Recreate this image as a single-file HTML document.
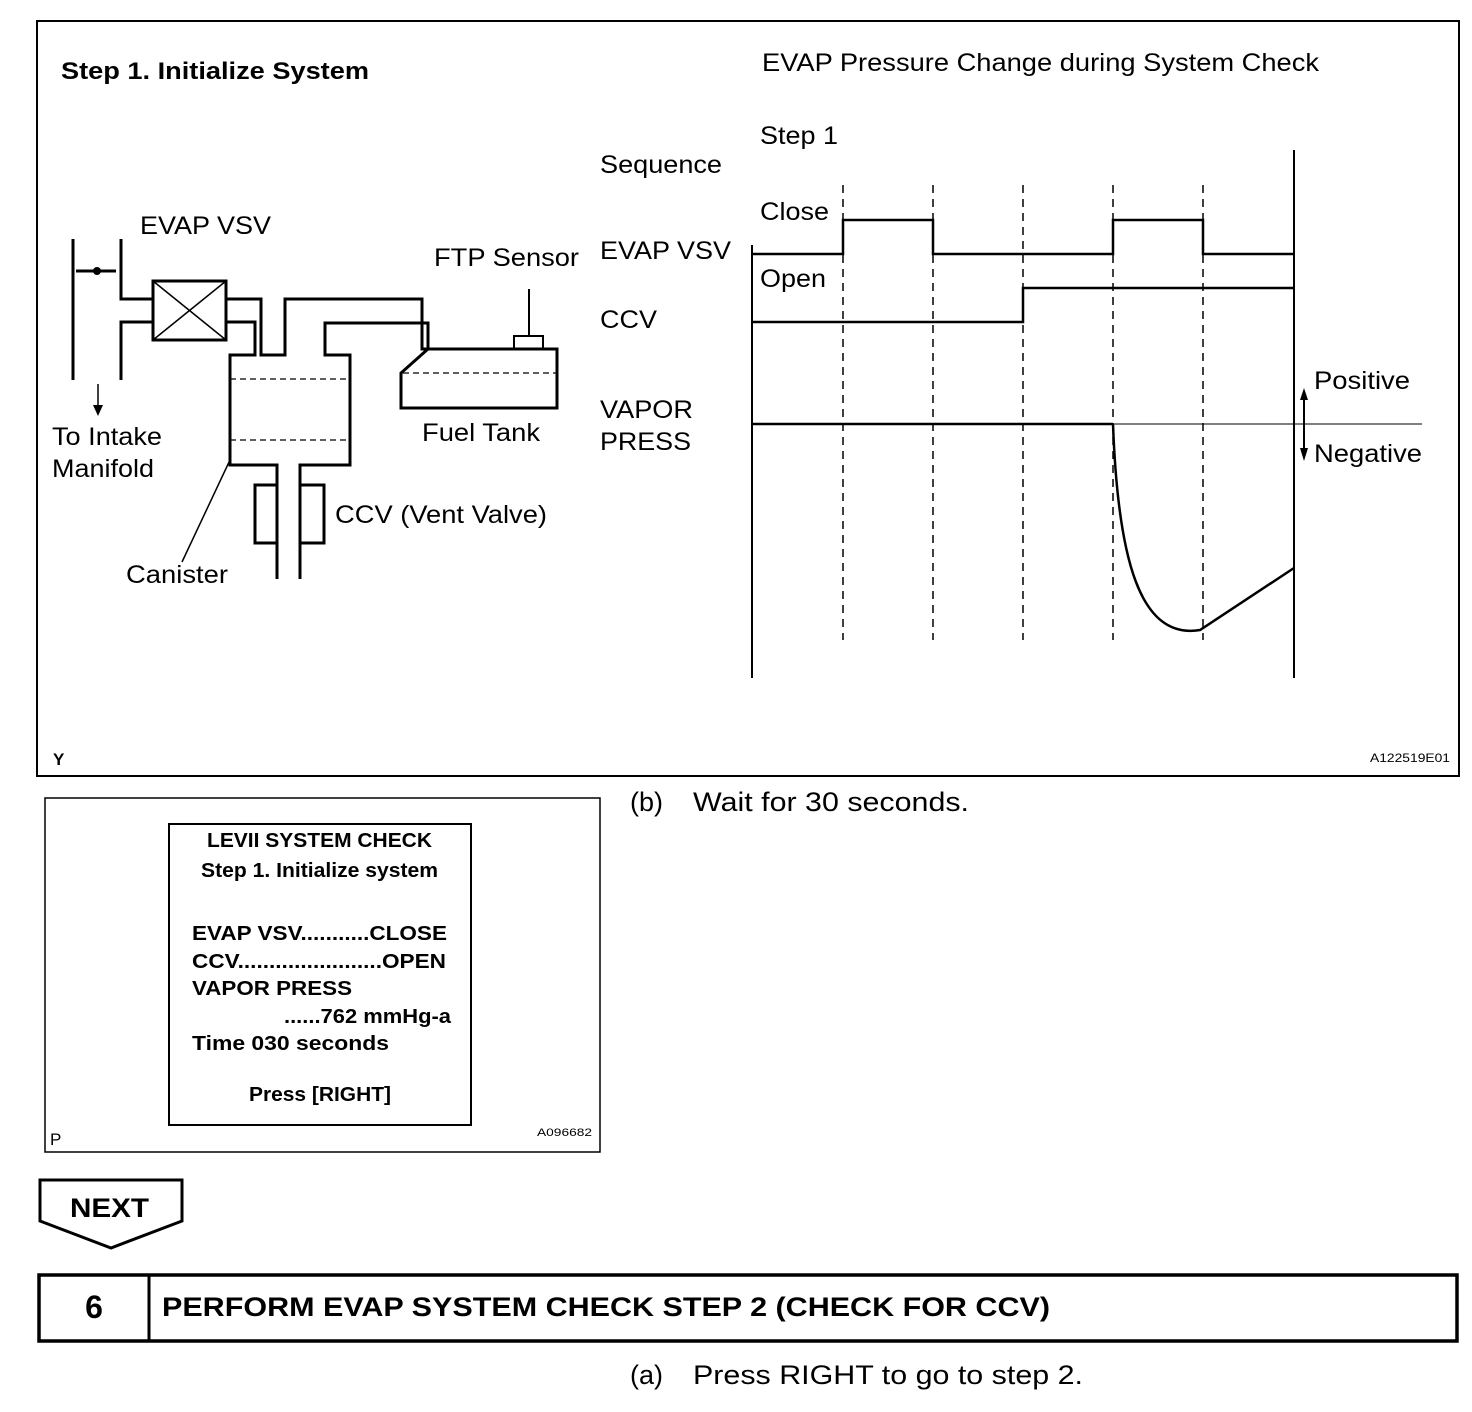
<!DOCTYPE html>
<html><head><meta charset="utf-8"><style>
body{margin:0;background:#fff}
svg{display:block}
text{font-family:"Liberation Sans",Arial,sans-serif;fill:#000}
</style></head><body>
<svg width="1472" height="1412" viewBox="0 0 1472 1412" xmlns="http://www.w3.org/2000/svg">
<rect x="37" y="21" width="1422" height="755" fill="none" stroke="#000" stroke-width="2"/>
<text x="61" y="79" font-size="24" font-weight="bold" textLength="308" lengthAdjust="spacingAndGlyphs">Step 1. Initialize System</text>
<text x="762" y="71" font-size="25" textLength="557" lengthAdjust="spacingAndGlyphs">EVAP Pressure Change during System Check</text>
<g fill="none" stroke="#000" stroke-width="3">
<line x1="73" y1="239" x2="73" y2="380"/>
<line x1="76" y1="271" x2="116" y2="271"/>
<polyline points="121,239 121,299 153,299"/>
<polyline points="121,380 121,322 153,322"/>
<rect x="153" y="281" width="73" height="59"/>
<line x1="153" y1="281" x2="226" y2="340" stroke-width="1.5"/>
<line x1="226" y1="281" x2="153" y2="340" stroke-width="1.5"/>
<polyline points="226,299 261,299 261,355 285,355 285,299 422,299 422,349 557,349 557,408 401,408 401,373 428,349 428,323 325,323 325,355 350,355 350,465 300,465 300,579"/>
<polyline points="226,322 255,322 255,355 230,355 230,465 277,465 277,579"/>
<rect x="255" y="485" width="22" height="58"/>
<rect x="300" y="485" width="24" height="58"/>
<line x1="529" y1="289" x2="529" y2="336" stroke-width="2"/>
<rect x="514" y="336" width="29" height="13" stroke-width="2"/>
<line x1="230" y1="460" x2="182" y2="562" stroke-width="1.5"/>
<line x1="98" y1="384" x2="98" y2="408" stroke-width="1.5"/>
</g>
<circle cx="97" cy="271" r="4"/>
<polygon points="93,405 103,405 98,416"/>
<g stroke="#000" stroke-width="1.2" stroke-dasharray="6,4">
<line x1="230" y1="379" x2="350" y2="379"/>
<line x1="230" y1="440" x2="350" y2="440"/>
<line x1="403" y1="373" x2="557" y2="373"/>
</g>
<g font-size="25" lengthAdjust="spacingAndGlyphs">
<text x="140" y="234" textLength="131" lengthAdjust="spacingAndGlyphs">EVAP VSV</text>
<text x="434" y="266" textLength="145" lengthAdjust="spacingAndGlyphs">FTP Sensor</text>
<text x="52" y="445" textLength="110" lengthAdjust="spacingAndGlyphs">To Intake</text>
<text x="52" y="477" textLength="102" lengthAdjust="spacingAndGlyphs">Manifold</text>
<text x="422" y="441" textLength="118" lengthAdjust="spacingAndGlyphs">Fuel Tank</text>
<text x="335" y="523" textLength="212" lengthAdjust="spacingAndGlyphs">CCV (Vent Valve)</text>
<text x="126" y="583" textLength="102" lengthAdjust="spacingAndGlyphs">Canister</text>
<text x="760" y="144" textLength="78" lengthAdjust="spacingAndGlyphs">Step 1</text>
<text x="600" y="173" textLength="122" lengthAdjust="spacingAndGlyphs">Sequence</text>
<text x="760" y="220" textLength="69" lengthAdjust="spacingAndGlyphs">Close</text>
<text x="600" y="259" textLength="131" lengthAdjust="spacingAndGlyphs">EVAP VSV</text>
<text x="760" y="287" textLength="66" lengthAdjust="spacingAndGlyphs">Open</text>
<text x="600" y="328" textLength="57" lengthAdjust="spacingAndGlyphs">CCV</text>
<text x="600" y="418" textLength="93" lengthAdjust="spacingAndGlyphs">VAPOR</text>
<text x="600" y="450" textLength="91" lengthAdjust="spacingAndGlyphs">PRESS</text>
<text x="1314" y="389" textLength="96" lengthAdjust="spacingAndGlyphs">Positive</text>
<text x="1314" y="462" textLength="108" lengthAdjust="spacingAndGlyphs">Negative</text>
</g>
<text x="53" y="765" font-size="17" font-weight="bold">Y</text>
<text x="1370" y="762" font-size="12" textLength="80" lengthAdjust="spacingAndGlyphs">A122519E01</text>
<g fill="none" stroke="#000">
<line x1="752" y1="245" x2="752" y2="678" stroke-width="2"/>
<line x1="1294" y1="150" x2="1294" y2="678" stroke-width="2"/>
<g stroke-width="1.5" stroke-dasharray="8,6">
<line x1="843" y1="185" x2="843" y2="640"/>
<line x1="933" y1="185" x2="933" y2="640"/>
<line x1="1023" y1="185" x2="1023" y2="640"/>
<line x1="1113" y1="185" x2="1113" y2="640"/>
<line x1="1203" y1="185" x2="1203" y2="640"/>
</g>
<polyline stroke-width="2.5" points="752,254 843,254 843,220 933,220 933,254 1113,254 1113,220 1203,220 1203,254 1294,254"/>
<polyline stroke-width="2.5" points="752,322 1023,322 1023,288 1294,288"/>
<line x1="752" y1="424" x2="1422" y2="424" stroke-width="1"/>
<line x1="752" y1="424" x2="1113" y2="424" stroke-width="2.5"/>
<path d="M1113,424 C1118,560 1140,640 1200,630 L1294,568" stroke-width="2.5"/>
<line x1="1304" y1="396" x2="1304" y2="452" stroke-width="2"/>
</g>
<polygon points="1300,400 1308,400 1304,388"/>
<polygon points="1300,448 1308,448 1304,461"/>

<rect x="45" y="798" width="555" height="354" fill="none" stroke="#000" stroke-width="1.5"/>
<rect x="169" y="824" width="302" height="301" fill="none" stroke="#000" stroke-width="2"/>
<g font-size="20" font-weight="bold">
<text x="207" y="847" textLength="225" lengthAdjust="spacingAndGlyphs">LEVII SYSTEM CHECK</text>
<text x="201" y="877" textLength="237" lengthAdjust="spacingAndGlyphs">Step 1. Initialize system</text>
<text x="192" y="940" textLength="255" lengthAdjust="spacingAndGlyphs">EVAP VSV...........CLOSE</text>
<text x="192" y="968" textLength="254" lengthAdjust="spacingAndGlyphs">CCV.......................OPEN</text>
<text x="192" y="995" textLength="160" lengthAdjust="spacingAndGlyphs">VAPOR PRESS</text>
<text x="284" y="1023" textLength="167" lengthAdjust="spacingAndGlyphs">......762 mmHg-a</text>
<text x="192" y="1050" textLength="197" lengthAdjust="spacingAndGlyphs">Time  030 seconds</text>
<text x="249" y="1101" textLength="142" lengthAdjust="spacingAndGlyphs">Press [RIGHT]</text>
</g>
<text x="50" y="1145" font-size="17">P</text>
<text x="537" y="1136" font-size="11" textLength="55" lengthAdjust="spacingAndGlyphs">A096682</text>
<text x="630" y="811" font-size="27">(b)</text>
<text x="693" y="811" font-size="27" textLength="276" lengthAdjust="spacingAndGlyphs">Wait for 30 seconds.</text>

<polygon points="40,1180 182,1180 182,1221 111,1248 40,1221" fill="none" stroke="#000" stroke-width="3"/>
<text x="70" y="1217" font-size="27" font-weight="bold" textLength="79" lengthAdjust="spacingAndGlyphs">NEXT</text>
<rect x="39" y="1275" width="1418" height="66" fill="none" stroke="#000" stroke-width="3.5"/>
<line x1="149" y1="1275" x2="149" y2="1341" stroke="#000" stroke-width="3"/>
<text x="94" y="1318" font-size="32" font-weight="bold" text-anchor="middle">6</text>
<text x="162" y="1316" font-size="27" font-weight="bold" textLength="888" lengthAdjust="spacingAndGlyphs">PERFORM EVAP SYSTEM CHECK STEP 2 (CHECK FOR CCV)</text>
<text x="630" y="1384" font-size="27">(a)</text>
<text x="693" y="1384" font-size="27" textLength="390" lengthAdjust="spacingAndGlyphs">Press RIGHT to go to step 2.</text>
</svg>
</body></html>
